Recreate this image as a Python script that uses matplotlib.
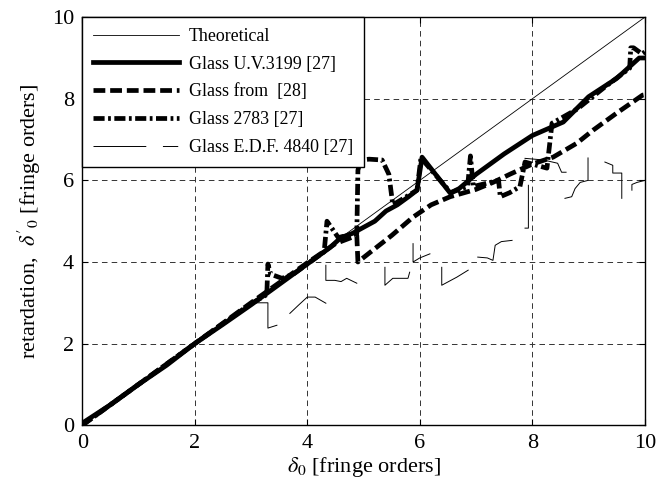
import numpy as np
import matplotlib
matplotlib.use('Agg')
import matplotlib.pyplot as plt
from matplotlib.lines import Line2D

plt.rcParams['font.family'] = ['Liberation Serif', 'DejaVu Serif']
plt.rcParams['mathtext.fontset'] = 'stix'
plt.rcParams['lines.scale_dashes'] = False

## Data
nan = np.nan

theo_x = [0, 10]
theo_y = [0, 10]

# Glass U.V.3199 [27]
uv_x = [0, 0.5, 1.0, 1.5, 2.0, 2.5, 3.0, 3.3, 3.6, 3.9, 4.2, 4.4, 4.6, 4.8, 5.0, 5.2, 5.4,
        5.6, 5.8, 5.95, 6.04, 6.54, 6.7, 7.0, 7.5, 8.0, 8.55, 9.0, 9.5, 9.9, 10]
uv_y = [0.05, 0.5, 1.0, 1.47, 2.0, 2.47, 2.95, 3.25, 3.55, 3.85, 4.15, 4.35, 4.6, 4.7, 4.85, 5.0, 5.25,
        5.4, 5.6, 5.76, 6.57, 5.69, 5.8, 6.15, 6.65, 7.1, 7.43, 8.05, 8.5, 9.0, 9.0]

# Glass from [28]
g28_x = [0, 1, 2, 3, 4, 4.5, 4.88, 4.9, 5.12, 5.5, 5.88, 6.2, 6.54, 7.0, 7.3, 7.6, 8.0, 8.37,
         8.79, 9.08, 9.5, 9.96, 10]
g28_y = [0, 1, 2, 3, 3.98, 4.45, 4.65, 4.0, 4.24, 4.65, 5.1, 5.4, 5.6, 5.78, 5.95, 6.15, 6.4, 6.57,
         6.91, 7.23, 7.65, 8.09, 8.1]

# Glass 2783 [27]
g2783_x = [0, 1, 2, 3, 3.28, 3.3, 3.35, 3.55, 3.75, 4.0, 4.3, 4.35, 4.45, 4.55, 4.88, 4.9, 4.95,
           5.1, 5.33, 5.45, 5.52, 5.7, 5.95, 6.02, 6.55, 6.85, 6.9, 6.95, 7.4, 7.43, 7.6, 7.78,
           7.87, 8.0, 8.26, 8.35, 8.8, 9.3, 9.73, 9.75, 9.8, 9.95, 10]
g2783_y = [0, 1, 2, 2.98, 3.2, 3.95, 3.7, 3.6, 3.7, 3.95, 4.25, 5.0, 4.8, 4.6, 4.7, 6.25, 6.5,
           6.52, 6.5, 6.15, 5.4, 5.55, 5.76, 6.55, 5.7, 5.85, 6.6, 5.85, 6.0, 5.6, 5.7, 5.85,
           6.45, 6.4, 6.3, 7.4, 7.75, 8.3, 8.75, 9.25, 9.25, 9.1, 9.15]

# Glass E.D.F. 4840 [27] (nan = break)
edf_x = [0, 0.5, 1.0, 1.5, 2.0, 2.5, 3.0, 3.3, 3.3, 3.46, nan,
         3.69, 3.85, 4.0, 4.14, 4.33, nan,
         4.33, 4.33, 4.49, 4.6, 4.7, 4.88, nan,
         5.38, 5.38, 5.52, 5.79, 5.82, nan,
         5.88, 5.88, 6.0, 6.18, nan,
         6.39, 6.39, 6.66, 6.86, nan,
         7.03, 7.2, 7.3, 7.34, 7.45, 7.64, nan,
         7.93, 7.93, 7.87, nan,
         7.87, 8.2, 8.45, 8.52, 8.6, nan,
         8.58, 8.7, 8.76, 8.85, 8.99, 8.99, nan,
         9.29, 9.43, 9.43, 9.59, 9.59, nan,
         9.77, 9.77, 9.86, 10]
edf_y = [0.02, 0.5, 1.02, 1.45, 2.0, 2.5, 3.0, 3.0, 2.38, 2.45, nan,
         2.74, 2.95, 3.14, 3.14, 2.99, nan,
         3.92, 3.55, 3.55, 3.52, 3.6, 3.48, nan,
         3.87, 3.43, 3.6, 3.6, 3.75, nan,
         4.45, 4.0, 4.1, 4.2, nan,
         3.87, 3.43, 3.63, 3.8, nan,
         4.12, 4.1, 4.04, 4.41, 4.5, 4.53, nan,
         5.88, 4.83, 4.83, nan,
         6.54, 6.5, 6.42, 6.2, 6.2, nan,
         5.56, 5.6, 5.8, 5.95, 6.0, 6.55, nan,
         6.45, 6.37, 6.18, 6.18, 5.56, nan,
         5.76, 5.9, 5.95, 6.0]

labels = ['Theoretical', 'Glass U.V.3199 [27]', 'Glass from  [28]',
          'Glass 2783 [27]', 'Glass E.D.F. 4840 [27]']

## Plotting
fig = plt.figure(figsize=(6.58, 4.91), dpi=100)
ax = fig.add_axes([0.125, 0.134, 0.855, 0.831])

ax.plot(theo_x, theo_y, color='k', lw=0.6)
ax.plot(uv_x, uv_y, color='k', lw=3.4, solid_joinstyle='round')
ax.plot(g28_x, g28_y, color='k', lw=3.4, dashes=(8.5, 3.5))
ax.plot(g2783_x, g2783_y, color='k', lw=3.4, dashes=(8, 2.5, 2, 2.5))
ax.plot(edf_x, edf_y, color='k', lw=0.7)

# legend handles (same styles as the lines)
handles = [Line2D([], [], color='k', lw=0.6),
           Line2D([], [], color='k', lw=3.4),
           Line2D([], [], color='k', lw=3.4, dashes=(8.5, 3.5)),
           Line2D([], [], color='k', lw=3.4, dashes=(8, 2.5, 2, 2.5)),
           Line2D([], [], color='k', lw=0.7, dashes=(38, 12, 11, 12))]

ax.set_xlim(0, 10)
ax.set_ylim(0, 10)
ax.set_xticks([0, 2, 4, 6, 8, 10])
ax.set_yticks([0, 2, 4, 6, 8, 10])
ax.grid(True, color='0.2', lw=0.7, dashes=(4, 3))
ax.tick_params(direction='in', length=4, labelsize=16, top=True, right=True, pad=6)
for s in ax.spines.values():
    s.set_linewidth(1.0)

ax.set_xlabel(r'$\delta_0$ [fringe orders]', fontsize=16, labelpad=2)
ax.set_ylabel(r"retardation,  $\delta'_0$ [fringe orders]", fontsize=16, labelpad=6)

leg = ax.legend(handles, labels, loc='upper left', fontsize=12.9, fancybox=False,
                framealpha=1, edgecolor='k', borderaxespad=0, handlelength=4.8,
                handletextpad=0.55, labelspacing=0.6, borderpad=0.6)
leg.get_frame().set_linewidth(1.0)

plt.savefig('out.png', dpi=100)
